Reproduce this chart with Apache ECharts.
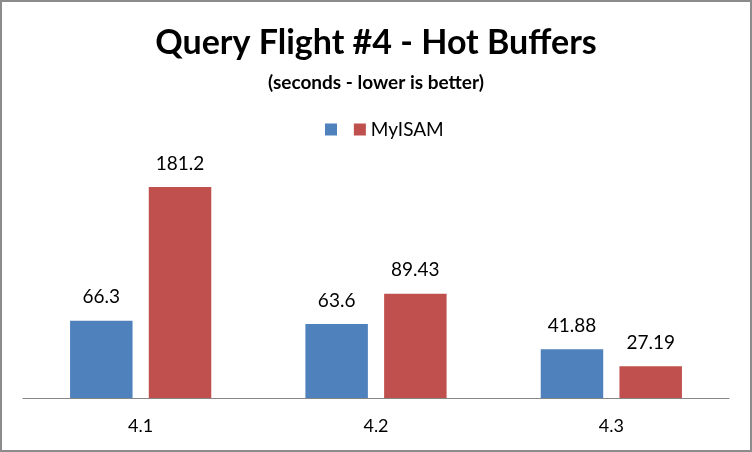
<!DOCTYPE html>
<html><head><meta charset="utf-8">
<script src="https://cdn.jsdelivr.net/npm/echarts@6/dist/echarts.min.js"></script>
<style>html,body{margin:0;padding:0;background:#fff}#c{width:752px;height:452px;box-sizing:border-box;border:2px solid #8c8c8c}</style>
</head><body><div id="c"></div>
<script>
const categories = ['4.1', '4.2', '4.3'];
const seriesNames = [' ', 'MyISAM'];
const seriesA = [66.3, 63.6, 41.88];
const seriesB = [181.2, 89.43, 27.19];
const labelsA = ['66.3', '63.6', '41.88'];
const labelsB = ['181.2', '89.43', '27.19'];
const FONT = 'Lato, "Liberation Sans", sans-serif';
const chart = echarts.init(document.getElementById('c'));
chart.setOption({
  animation: false,
  title: [
    {text: 'Query Flight #4 - Hot Buffers', left: 'center', top: 19,
     textStyle: {fontFamily: FONT, fontSize: 34, fontWeight: 'bold', color: '#000'}},
    {text: '(seconds - lower is better)', left: 'center', top: 66,
     textStyle: {fontFamily: FONT, fontSize: 19, fontWeight: 'bold', color: '#000'}}
  ],
  legend: {top: 113, left: 318, itemWidth: 12, itemHeight: 12, itemGap: 7, icon: 'rect',
    textStyle: {fontFamily: FONT, fontSize: 19, color: '#000'},
    data: seriesNames},
  grid: {left: 21, right: 21, top: 163, bottom: 52},
  xAxis: {type: 'category', data: categories,
    axisLine: {lineStyle: {color: '#868686', width: 1}}, axisTick: {show: false},
    axisLabel: {fontFamily: FONT, fontSize: 18, color: '#000', margin: 19}},
  yAxis: {type: 'value', min: 0, max: 200, show: false},
  series: [
    {name: seriesNames[0], type: 'bar', data: seriesA, itemStyle: {color: '#4F81BD'},
     barGap: '26%', barCategoryGap: '40%',
     label: {show: true, position: 'top', distance: 14, fontFamily: FONT, fontSize: 19, color: '#000',
       formatter: p => labelsA[p.dataIndex]}},
    {name: seriesNames[1], type: 'bar', data: seriesB, itemStyle: {color: '#C0504D'},
     barGap: '26%', barCategoryGap: '40%',
     label: {show: true, position: 'top', distance: 14, fontFamily: FONT, fontSize: 19, color: '#000',
       formatter: p => labelsB[p.dataIndex]}}
  ]
});
</script></body></html>
